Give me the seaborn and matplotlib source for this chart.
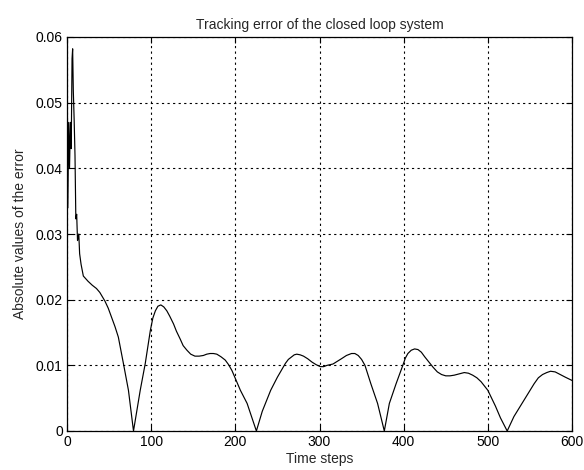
import matplotlib
matplotlib.use("Agg")
import matplotlib.pyplot as plt
import seaborn as sns
import pandas as pd

# Time steps and absolute tracking error
time_steps = [0, 0.5, 1, 2, 3, 4, 5, 6, 6.7, 7.5, 8.5, 9.5, 10.5, 11.5, 12.5, 14, 15, 16.7,
              19.4, 25, 30, 35, 39, 45, 49, 53, 57, 61, 67, 73, 79, 87, 93, 99, 102, 105,
              108, 111.5, 115, 118.6, 122, 126.6, 130, 134.5, 138, 142.5, 147, 152, 157,
              162, 166, 170, 174, 178, 183, 188, 192, 196, 206, 214, 225, 232, 242, 250,
              255, 259.5, 263, 267, 270, 273, 277, 281, 286, 291, 296, 301, 305, 309, 316,
              321, 326, 332, 338, 342, 346, 350, 354, 361, 369, 377,
              383, 391, 399, 402, 405, 409, 413, 417, 421, 425, 430, 435, 440, 445, 450,
              455, 460, 466, 472, 477, 482, 487, 492, 500, 509, 515, 523, 531, 543, 555,
              560, 565, 570, 574.5, 580, 586, 592, 600]
abs_error = [0.032, 0.048, 0.034, 0.047, 0.040, 0.047, 0.043, 0.0567, 0.0582, 0.0518,
             0.0474, 0.042, 0.0323, 0.033, 0.029, 0.030, 0.027, 0.0254,
             0.0236, 0.0228, 0.0222, 0.0217, 0.0211, 0.0198, 0.0187, 0.0173, 0.0159, 0.0143,
             0.0103, 0.0062, 0.0, 0.0062, 0.0103, 0.0153, 0.0172, 0.0183,
             0.0190, 0.0192, 0.0189, 0.0183, 0.0175, 0.0163, 0.0152, 0.0140, 0.0130, 0.0123,
             0.0117, 0.0114, 0.0114,
             0.0115, 0.0117, 0.0118, 0.0118, 0.0117, 0.0113, 0.0108, 0.0101, 0.0092, 0.0062,
             0.0042, 0.0, 0.003, 0.0062, 0.0082,
             0.0093, 0.0103, 0.0109, 0.0113, 0.0116, 0.0117, 0.0116, 0.0114, 0.0110, 0.0105,
             0.0101, 0.0098, 0.0098, 0.0100, 0.0102,
             0.0106, 0.0110, 0.0115, 0.0118, 0.0118, 0.0115, 0.0109, 0.0100, 0.0072, 0.0042, 0.0,
             0.0042, 0.0072, 0.0100, 0.0111, 0.0118, 0.0123, 0.0125, 0.0124, 0.0120, 0.0113,
             0.0105, 0.0097, 0.0090, 0.0086, 0.0084,
             0.0084, 0.0085, 0.0087, 0.0089, 0.0088, 0.0085, 0.0081, 0.0075, 0.0062, 0.0038,
             0.0020, 0.0, 0.0022, 0.0047, 0.0072,
             0.0081, 0.0086, 0.0089, 0.0091, 0.0090, 0.0086, 0.0082, 0.0077]

x_ticks = [0, 100, 200, 300, 400, 500, 600]
y_ticks = [0, 0.01, 0.02, 0.03, 0.04, 0.05, 0.06]
y_tick_labels = ["0", "0.01", "0.02", "0.03", "0.04", "0.05", "0.06"]

df = pd.DataFrame({"t": time_steps, "err": abs_error})

sns.set_style("white")
plt.rcParams["font.family"] = ["Liberation Sans", "DejaVu Sans"]

fig = plt.figure(figsize=(5.84, 4.70), dpi=100)
ax = fig.add_axes([67 / 584, 1 - 431 / 470, (572 - 67) / 584, (431 - 37) / 470])

sns.lineplot(data=df, x="t", y="err", ax=ax, color="black", linewidth=0.85,
             estimator=None, sort=False)

ax.set_xlim(0, 600)
ax.set_ylim(0, 0.06)
ax.set_xticks(x_ticks)
ax.set_xticklabels([str(v) for v in x_ticks])
ax.set_yticks(y_ticks)
ax.set_yticklabels(y_tick_labels)

ax.grid(True, color="black", linestyle=(0, (2, 3)), linewidth=0.8)
for s in ax.spines.values():
    s.set_color("black")
    s.set_linewidth(0.9)
ax.tick_params(direction="in", length=4, width=0.8, colors="black", labelsize=10,
               top=True, right=True, bottom=True, left=True, pad=3)

ax.set_title("Tracking error of the closed loop system", fontsize=10, pad=6)
ax.set_xlabel("Time steps", fontsize=10, labelpad=2)
ax.set_ylabel("Absolute values of the error", fontsize=10, labelpad=6)

fig.savefig("out.png", dpi=100, facecolor="white")
